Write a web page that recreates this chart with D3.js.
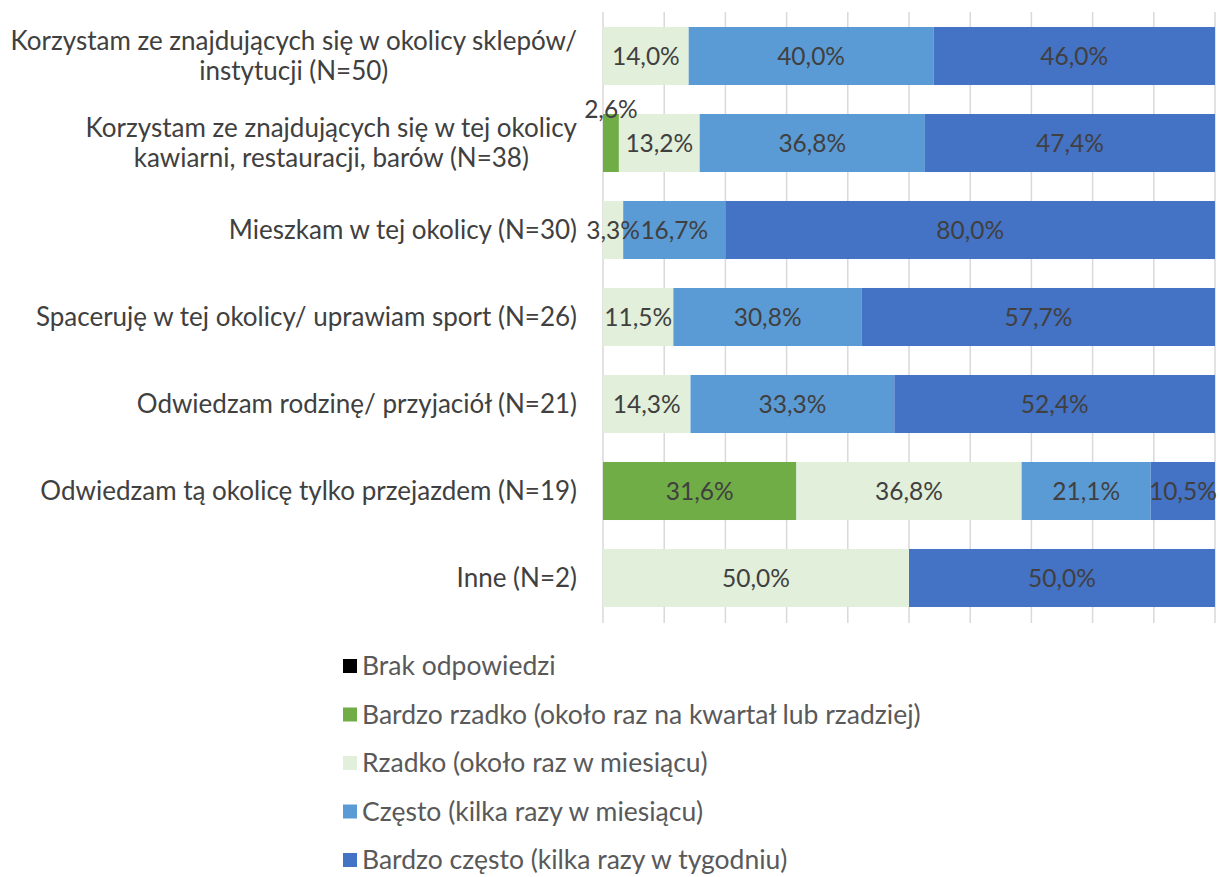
<!DOCTYPE html>
<html>
<head>
<meta charset="utf-8">
<script src="https://cdnjs.cloudflare.com/ajax/libs/d3/7.8.5/d3.min.js"></script>
<style>
  body { margin: 0; background: #fff; font-family: Lato, "Open Sans", sans-serif; }
  text { font-family: Lato, "Open Sans", sans-serif; }
</style>
</head>
<body>
<div id="chart"></div>
<script>
// categories (top to bottom)
var categories = [
  ["Korzystam ze znajdujących się w okolicy sklepów/", "instytucji (N=50)"],
  ["Korzystam ze znajdujących się w tej okolicy", "kawiarni, restauracji, barów (N=38)"],
  ["Mieszkam w tej okolicy (N=30)"],
  ["Spaceruję w tej okolicy/ uprawiam sport (N=26)"],
  ["Odwiedzam rodzinę/ przyjaciół (N=21)"],
  ["Odwiedzam tą okolicę tylko przejazdem (N=19)"],
  ["Inne (N=2)"]
];

var seriesNames = [
  "Brak odpowiedzi",
  "Bardzo rzadko (około raz na kwartał lub rzadziej)",
  "Rzadko (około raz w miesiącu)",
  "Często (kilka razy w miesiącu)",
  "Bardzo często (kilka razy w tygodniu)"
];
var seriesColors = ["#000000", "#70ad47", "#e2efda", "#5b9bd5", "#4472c4"];

// values in %
var brak = [0, 0, 0, 0, 0, 0, 0];
var bardzoRzadko = [0, 2.6, 0, 0, 0, 31.6, 0];
var rzadko = [14.0, 13.2, 3.3, 11.5, 14.3, 36.8, 50.0];
var czesto = [40.0, 36.8, 16.7, 30.8, 33.3, 21.1, 0];
var bardzoCzesto = [46.0, 47.4, 80.0, 57.7, 52.4, 10.5, 50.0];

var tickValues = [0, 10, 20, 30, 40, 50, 60, 70, 80, 90, 100];

var series = [brak, bardzoRzadko, rzadko, czesto, bardzoCzesto];

var W = 1220, H = 877;
var svg = d3.select("#chart").append("svg")
  .attr("width", W).attr("height", H);

var x = d3.scaleLinear().domain([0, 100]).range([603, 1215]);
var y = d3.scaleBand()
  .domain(d3.range(categories.length))
  .range([12.5, 621.5])
  .paddingInner(0.333)
  .paddingOuter(0.1665);

// gridlines + ticks
svg.append("g").selectAll("line")
  .data(tickValues)
  .join("line")
  .attr("x1", d => x(d)).attr("x2", d => x(d))
  .attr("y1", 12).attr("y2", 623)
  .attr("stroke", "#d9d9d9")
  .attr("stroke-width", 1.5);

// stacked bars
var rows = categories.map(function(c, i) {
  var acc = 0;
  return series.map(function(s, k) {
    var seg = { row: i, k: k, v: s[i], x0: acc, x1: acc + s[i] };
    acc += s[i];
    return seg;
  });
});
var segs = [].concat.apply([], rows).filter(d => d.v > 0);

svg.append("g").selectAll("rect")
  .data(segs)
  .join("rect")
  .attr("x", d => x(d.x0))
  .attr("y", d => y(d.row))
  .attr("width", d => x(d.x1) - x(d.x0))
  .attr("height", y.bandwidth())
  .attr("fill", d => seriesColors[d.k]);

// value labels
var fmt = d => d.toFixed(1).replace(".", ",") + "%";
svg.append("g").selectAll("text")
  .data(segs)
  .join("text")
  .attr("x", d => x((d.x0 + d.x1) / 2))
  .attr("y", d => (d.v < 3 ? y(d.row) - 5 : y(d.row) + y.bandwidth() / 2))
  .attr("dy", "0.35em")
  .attr("text-anchor", "middle")
  .attr("fill", "#404040")
  .style("font-size", "24.5px")
  .text(d => fmt(d.v));

// category labels
var catG = svg.append("g");
categories.forEach(function(lines, i) {
  var cy = y(i) + y.bandwidth() / 2;
  var t = catG.append("text")
    .attr("fill", "#404040")
    .style("font-size", "26px");
  var spans = lines.map(function(l, j) {
    return t.append("tspan")
      .attr("y", cy + (j - (lines.length - 1) / 2) * 30)
      .attr("dy", "0.35em")
      .text(l);
  });
  if (lines.length > 1) {
    var maxW = d3.max(spans, s => s.node().getComputedTextLength());
    t.attr("text-anchor", "middle");
    spans.forEach(s => s.attr("x", 577 - maxW / 2));
  } else {
    t.attr("text-anchor", "end");
    spans.forEach(s => s.attr("x", 577));
  }
});

// legend
var leg = svg.append("g");
seriesNames.forEach(function(n, k) {
  var ly = 666 + k * 48.5;
  leg.append("rect")
    .attr("x", 343).attr("y", ly - 7)
    .attr("width", 14).attr("height", 14)
    .attr("fill", seriesColors[k]);
  leg.append("text")
    .attr("x", 362).attr("y", ly)
    .attr("dy", "0.35em")
    .attr("fill", "#595959")
    .style("font-size", "26.5px")
    .text(n);
});
</script>
</body>
</html>
